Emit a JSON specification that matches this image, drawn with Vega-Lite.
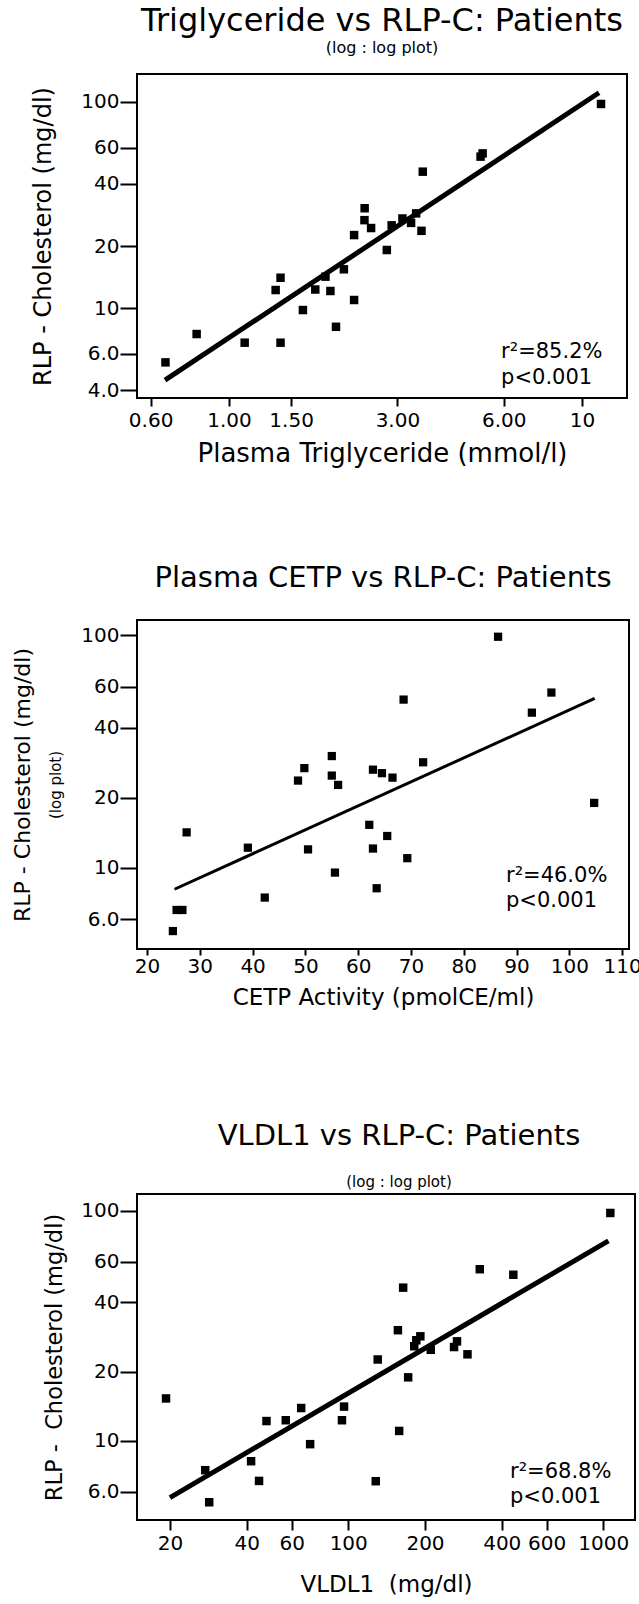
{
  "$schema": "https://vega.github.io/schema/vega-lite/v6.json",
  "padding": {"left": 10, "top": 3, "right": 0, "bottom": 0},
  "background": "white",
  "spacing": 94,
  "config": {
    "font": "DejaVu Sans",
    "view": {"stroke": "black", "strokeWidth": 2},
    "axis": {
      "domain": false, "grid": false, "tickColor": "black", "tickWidth": 2,
      "labelColor": "black", "titleColor": "black", "labelFont": "DejaVu Sans",
      "titleFont": "DejaVu Sans", "titleFontWeight": "normal", "labelFontSize": 20,
      "labelFlush": false, "labelOverlap": false, "labelBound": false
    },
    "title": {"color": "black", "fontWeight": "normal", "font": "DejaVu Sans", "anchor": "middle", "subtitleColor": "black", "subtitleFont": "DejaVu Sans"}
  },
  "datasets": {
    "tg": [
      {"tg": 0.661, "rlp": 5.45}, {"tg": 0.81, "rlp": 7.48}, {"tg": 1.108, "rlp": 6.79}, {"tg": 1.4, "rlp": 6.79},
      {"tg": 1.356, "rlp": 12.23}, {"tg": 1.4, "rlp": 14.03}, {"tg": 1.62, "rlp": 9.78}, {"tg": 1.756, "rlp": 12.3},
      {"tg": 1.877, "rlp": 14.2}, {"tg": 1.938, "rlp": 12.1}, {"tg": 2.01, "rlp": 8.11}, {"tg": 2.116, "rlp": 15.42},
      {"tg": 2.262, "rlp": 10.94}, {"tg": 2.262, "rlp": 22.6}, {"tg": 2.423, "rlp": 30.5}, {"tg": 2.42, "rlp": 26.7},
      {"tg": 2.527, "rlp": 24.45}, {"tg": 2.8, "rlp": 19.13}, {"tg": 2.89, "rlp": 25.2}, {"tg": 3.1, "rlp": 27.2},
      {"tg": 3.28, "rlp": 25.9}, {"tg": 3.39, "rlp": 28.8}, {"tg": 3.51, "rlp": 23.7}, {"tg": 3.54, "rlp": 45.9},
      {"tg": 5.16, "rlp": 54.3}, {"tg": 5.23, "rlp": 56.3}, {"tg": 11.32, "rlp": 97.8}
    ],
    "tg_fit": [{"tg": 0.659, "rlp": 4.47}, {"tg": 11.17, "rlp": 110.9}],
    "cetp": [
      {"cetp": 24.9, "rlp": 5.35}, {"cetp": 25.6, "rlp": 6.59}, {"cetp": 26.7, "rlp": 6.59}, {"cetp": 27.5, "rlp": 14.2},
      {"cetp": 39.1, "rlp": 12.2}, {"cetp": 42.3, "rlp": 7.45}, {"cetp": 48.6, "rlp": 23.7}, {"cetp": 49.8, "rlp": 26.8},
      {"cetp": 50.5, "rlp": 12.0}, {"cetp": 55.0, "rlp": 30.2}, {"cetp": 55.0, "rlp": 24.9}, {"cetp": 56.2, "rlp": 22.7},
      {"cetp": 55.6, "rlp": 9.54}, {"cetp": 62.1, "rlp": 15.3}, {"cetp": 62.8, "rlp": 26.4}, {"cetp": 62.8, "rlp": 12.1},
      {"cetp": 63.5, "rlp": 8.17}, {"cetp": 64.5, "rlp": 25.5}, {"cetp": 65.5, "rlp": 13.7}, {"cetp": 66.5, "rlp": 24.4},
      {"cetp": 68.6, "rlp": 52.8}, {"cetp": 69.3, "rlp": 11.0}, {"cetp": 72.3, "rlp": 28.4}, {"cetp": 86.5, "rlp": 98.3},
      {"cetp": 92.9, "rlp": 46.4}, {"cetp": 96.6, "rlp": 56.6}, {"cetp": 104.7, "rlp": 19.0}
    ],
    "cetp_fit": [{"cetp": 25.2, "rlp": 8.09}, {"cetp": 104.8, "rlp": 53.4}],
    "vldl": [
      {"vldl": 19.3, "rlp": 15.3}, {"vldl": 27.5, "rlp": 7.46}, {"vldl": 28.5, "rlp": 5.41}, {"vldl": 41.6, "rlp": 8.16},
      {"vldl": 44.7, "rlp": 6.7}, {"vldl": 47.8, "rlp": 12.2}, {"vldl": 56.9, "rlp": 12.3}, {"vldl": 65.4, "rlp": 13.9},
      {"vldl": 70.9, "rlp": 9.68}, {"vldl": 94.5, "rlp": 12.3}, {"vldl": 96.3, "rlp": 14.1}, {"vldl": 128.2, "rlp": 6.68},
      {"vldl": 130.5, "rlp": 22.6}, {"vldl": 156.6, "rlp": 30.3}, {"vldl": 158.4, "rlp": 11.05}, {"vldl": 164.2, "rlp": 46.4},
      {"vldl": 171.8, "rlp": 18.9}, {"vldl": 181.5, "rlp": 25.8}, {"vldl": 184.9, "rlp": 27.4}, {"vldl": 191.8, "rlp": 28.5},
      {"vldl": 210.7, "rlp": 24.9}, {"vldl": 260, "rlp": 25.6}, {"vldl": 267, "rlp": 27.1}, {"vldl": 293.5, "rlp": 23.8},
      {"vldl": 328, "rlp": 55.8}, {"vldl": 444, "rlp": 52.8}, {"vldl": 1066, "rlp": 98.0}
    ],
    "vldl_fit": [{"vldl": 20.0, "rlp": 5.67}, {"vldl": 1048, "rlp": 74.1}],
    "notes": [
      {"panel": "tg", "label": "r²=85.2%\np<0.001"},
      {"panel": "cetp", "label": "r²=46.0%\np<0.001"},
      {"panel": "vldl", "label": "r²=68.8%\np<0.001"}
    ]
  },
  "vconcat": [
    {
      "width": 490, "height": 324,
      "title": {"text": "Triglyceride vs RLP-C: Patients", "subtitle": "(log : log plot)", "fontSize": 32, "subtitleFontSize": 16, "subtitlePadding": 2, "offset": 17.5},
      "layer": [
        {
          "data": {"name": "tg"},
          "mark": {"type": "point", "shape": "square", "filled": true, "size": 72, "color": "black", "opacity": 1},
          "encoding": {
            "x": {"field": "tg", "type": "quantitative", "scale": {"type": "log", "domain": [0.549, 13.41], "nice": false},
              "axis": {"title": "Plasma Triglyceride (mmol/l)", "titleFontSize": 26, "titlePadding": 10.4, "tickSize": 8, "labelPadding": 4,
                "values": [0.6, 1, 1.5, 3, 6, 10], "labelExpr": "datum.value == 10 ? '10' : format(datum.value, '.2f')"}},
            "y": {"field": "rlp", "type": "quantitative", "scale": {"type": "log", "domain": [3.66, 136.7], "nice": false},
              "axis": {"title": "RLP - Cholesterol (mg/dl)", "titleFontSize": 24, "titlePadding": 25, "tickSize": 17, "labelPadding": 1,
                "values": [4, 6, 10, 20, 40, 60, 100], "labelExpr": "datum.value < 10 ? format(datum.value, '.1f') : format(datum.value, 'd')"}}
          }
        },
        {
          "data": {"name": "tg_fit"},
          "mark": {"type": "line", "color": "black", "strokeWidth": 5},
          "encoding": {"x": {"field": "tg", "type": "quantitative"}, "y": {"field": "rlp", "type": "quantitative"}}
        },
        {
          "data": {"name": "notes"},
          "transform": [{"filter": "datum.panel == 'tg'"}],
          "mark": {"type": "text", "align": "left", "baseline": "alphabetic", "fontSize": 21, "lineHeight": 26, "lineBreak": "\n", "color": "black"},
          "encoding": {"x": {"datum": 5.9, "type": "quantitative"}, "y": {"datum": 5.72, "type": "quantitative"}, "text": {"field": "label"}}
        }
      ]
    },
    {
      "width": 492, "height": 329,
      "title": {"text": "Plasma CETP vs RLP-C: Patients", "fontSize": 29, "offset": 27.5},
      "resolve": {"scale": {"y": "independent"}, "axis": {"y": "independent"}},
      "layer": [
        {
          "data": {"name": "cetp"},
          "mark": {"type": "point", "shape": "square", "filled": true, "size": 68, "color": "black", "opacity": 1},
          "encoding": {
            "x": {"field": "cetp", "type": "quantitative", "scale": {"domain": [18.1, 111.3], "nice": false, "zero": false},
              "axis": {"title": ["CETP Activity (pmolCE/ml)", " "], "titleFontSize": 23, "titleLineHeight": 16, "titlePadding": 9.6, "tickSize": 6, "labelPadding": 1.5,
                "values": [20, 30, 40, 50, 60, 70, 80, 90, 100, 110]}},
            "y": {"field": "rlp", "type": "quantitative", "scale": {"type": "log", "domain": [4.48, 116], "nice": false},
              "axis": {"title": "RLP - Cholesterol (mg/dl)", "titleFontSize": 22, "titlePadding": 46, "tickSize": 17, "labelPadding": 1,
                "values": [6, 10, 20, 40, 60, 100], "labelExpr": "datum.value < 10 ? format(datum.value, '.1f') : format(datum.value, 'd')"}}
          }
        },
        {
          "data": {"name": "cetp_fit"},
          "mark": {"type": "line", "color": "black", "strokeWidth": 3},
          "encoding": {
            "x": {"field": "cetp", "type": "quantitative"},
            "y": {"field": "rlp", "type": "quantitative", "scale": {"type": "log", "domain": [4.48, 116], "nice": false},
              "axis": {"title": "(log plot)", "orient": "left", "titleFontSize": 15, "titlePadding": 74, "ticks": false, "labels": false, "domain": false}}
          }
        },
        {
          "data": {"name": "notes"},
          "transform": [{"filter": "datum.panel == 'cetp'"}],
          "mark": {"type": "text", "align": "left", "baseline": "alphabetic", "fontSize": 21, "lineHeight": 25, "lineBreak": "\n", "color": "black"},
          "encoding": {"x": {"datum": 88.0, "type": "quantitative"},
            "y": {"datum": 8.66, "type": "quantitative", "scale": {"type": "log", "domain": [4.48, 116], "nice": false}, "axis": null},
            "text": {"field": "label"}}
        }
      ]
    },
    {
      "width": 498, "height": 326,
      "title": {"text": "VLDL1 vs RLP-C: Patients", "subtitle": "(log : log plot)", "fontSize": 29, "subtitleFontSize": 15, "subtitlePadding": 23.4, "offset": 4.3, "dx": 13},
      "layer": [
        {
          "data": {"name": "vldl"},
          "mark": {"type": "point", "shape": "square", "filled": true, "size": 72, "color": "black", "opacity": 1},
          "encoding": {
            "x": {"field": "vldl", "type": "quantitative", "scale": {"type": "log", "domain": [14.85, 1332], "nice": false},
              "axis": {"title": "VLDL1\u00a0 (mg/dl)", "titleFontSize": 23, "titlePadding": 19.6, "tickSize": 10, "labelPadding": 3.5,
                "values": [20, 40, 60, 100, 200, 400, 600, 1000], "format": "d"}},
            "y": {"field": "rlp", "type": "quantitative", "scale": {"type": "log", "domain": [4.53, 118.5], "nice": false},
              "axis": {"title": "RLP -\u00a0 Cholesterol (mg/dl)", "titleFontSize": 22.5, "titlePadding": 14, "tickSize": 17, "labelPadding": 1,
                "values": [6, 10, 20, 40, 60, 100], "labelExpr": "datum.value < 10 ? format(datum.value, '.1f') : format(datum.value, 'd')"}}
          }
        },
        {
          "data": {"name": "vldl_fit"},
          "mark": {"type": "line", "color": "black", "strokeWidth": 5},
          "encoding": {"x": {"field": "vldl", "type": "quantitative"}, "y": {"field": "rlp", "type": "quantitative"}}
        },
        {
          "data": {"name": "notes"},
          "transform": [{"filter": "datum.panel == 'vldl'"}],
          "mark": {"type": "text", "align": "left", "baseline": "alphabetic", "fontSize": 21, "lineHeight": 25, "lineBreak": "\n", "color": "black"},
          "encoding": {"x": {"datum": 431, "type": "quantitative"}, "y": {"datum": 6.9, "type": "quantitative"}, "text": {"field": "label"}}
        }
      ]
    }
  ]
}
